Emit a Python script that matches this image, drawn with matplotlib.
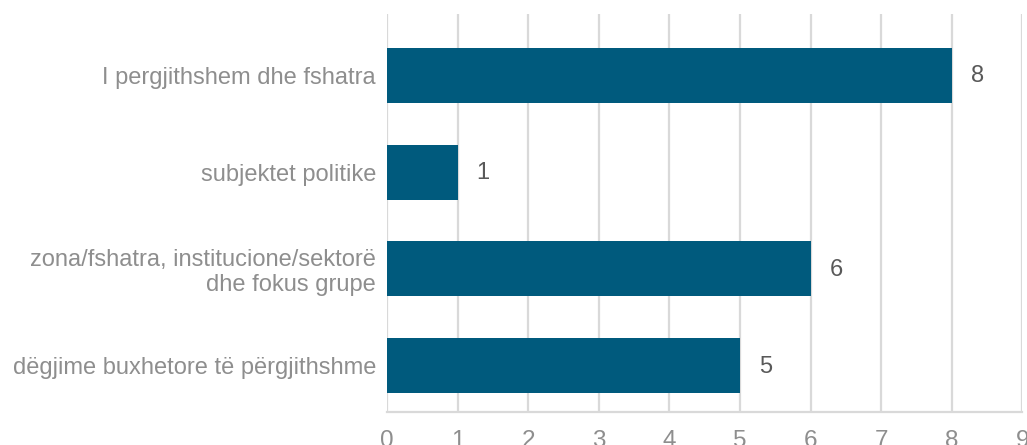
import matplotlib
matplotlib.use("Agg")
import matplotlib.pyplot as plt

categories = ["I pergjithshem dhe fshatra", "subjektet politike",
              "zona/fshatra, institucione/sektorë\ndhe fokus grupe",
              "dëgjime buxhetore të përgjithshme"]
values = [8, 1, 6, 5]
xticks = [0, 1, 2, 3, 4, 5, 6, 7, 8, 9]

plt.rcParams['font.family'] = ['Liberation Sans', 'DejaVu Sans']

fig = plt.figure(figsize=(10.27, 4.45), dpi=100)
ax = fig.add_axes([387/1027, 33/445, 635.5/1027, 398/445])

ypos = list(range(len(categories)))
ax.barh(ypos, values, height=0.57, color='#005A7D', zorder=3)
ax.set_ylim(3.48, -0.635)
ax.set_xlim(0, 9)
ax.set_yticks(ypos)
ax.set_yticklabels(categories, fontsize=17, color='#8E8E8E', linespacing=1.15)
ax.set_xticks(xticks)
ax.set_xticklabels([str(t) for t in xticks], fontsize=17.5, color='#8E8E8E')
ax.tick_params(axis='both', length=0)
ax.tick_params(axis='x', pad=13)
ax.tick_params(axis='y', pad=8)
ax.grid(axis='x', color='#D9D9D9', linewidth=1.6, zorder=0)
for s in ['top', 'right', 'left']:
    ax.spines[s].set_visible(False)
ax.spines['bottom'].set_color('#D9D9D9')
ax.spines['bottom'].set_linewidth(1.6)

for y, v in zip(ypos, values):
    ax.annotate(str(v), (v, y), xytext=(19, -1), textcoords='offset pixels',
                va='center', ha='left', fontsize=17, color='#595959')

fig.savefig('out.png', dpi=100)
